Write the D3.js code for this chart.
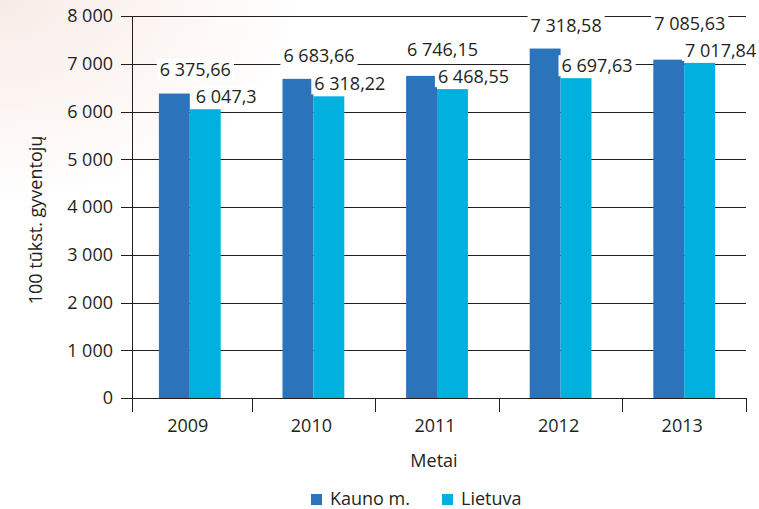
<!DOCTYPE html>
<html><head><meta charset="utf-8">
<script src="https://cdn.jsdelivr.net/npm/d3@7"></script>
<style>html,body{margin:0;padding:0;background:#fff;}svg{display:block;}</style>
</head><body>
<svg id="c" width="759" height="509"></svg>
<script>
const years = ["2009","2010","2011","2012","2013"];
const seriesNames = ["Kauno m.","Lietuva"];
const kauno = [6375.66, 6683.66, 6746.15, 7318.58, 7085.63];
const lietuva = [6047.3, 6318.22, 6468.55, 6697.63, 7017.84];
const yTicks = [0,1000,2000,3000,4000,5000,6000,7000,8000];
const yTitle = "100 tūkst. gyventojų";
const xTitle = "Metai";

const colors = ["#2b74bb","#00b1e0"];
const ink = "#231f20";
const font = "'Open Sans', sans-serif";
const fs = 18;

const svg = d3.select("#c");
const defs = svg.append("defs");
const rg = defs.append("radialGradient").attr("id","bg").attr("cx","0").attr("cy","0").attr("r","0.4");
rg.append("stop").attr("offset","0").attr("stop-color","#f8ebe6");
rg.append("stop").attr("offset","1").attr("stop-color","#ffffff");
svg.append("rect").attr("width",759).attr("height",509).attr("fill","url(#bg)");

const axisX = 132, x0 = 128, x1 = 746, yTop = 16, yBot = 398;
const x = d3.scaleBand().domain(years).range([x0,x1]).paddingInner(0.5).paddingOuter(0.25);
const xs = d3.scaleBand().domain(seriesNames).range([0,x.bandwidth()]);
const y = d3.scaleLinear().domain([0,8000]).range([yBot,yTop]);
const fmt = v => d3.format(",")(v).replace(/,/g," ").replace(".",",");

// gridlines + y ticks
const g = svg.append("g");
g.selectAll("line.grid").data(yTicks.filter(d=>d>0)).join("line")
  .attr("x1",axisX-11).attr("x2",x1).attr("y1",d=>Math.round(y(d))+0.5).attr("y2",d=>Math.round(y(d))+0.5)
  .attr("stroke",ink).attr("stroke-width",1);
g.selectAll("text.yl").data(yTicks).join("text")
  .attr("x",axisX-19).attr("y",d=>y(d)).attr("dy","0.36em").attr("text-anchor","end")
  .attr("font-family",font).attr("font-size",fs).attr("fill",ink)
  .text(d=>d3.format(",")(d).replace(/,/g," "));

// bars
const data = years.map((yr,i)=>({year:yr, vals:[kauno[i],lietuva[i]]}));
const grp = svg.append("g");
data.forEach(d=>{
  d.vals.forEach((v,j)=>{
    grp.append("rect").attr("x",x(d.year)+xs(seriesNames[j])).attr("width",xs.bandwidth())
      .attr("y",y(v)).attr("height",yBot-y(v)).attr("fill",colors[j]);
  });
});

// axes lines
svg.append("line").attr("x1",axisX-11).attr("x2",x1).attr("y1",yBot+0.5).attr("y2",yBot+0.5).attr("stroke",ink);
svg.append("line").attr("x1",axisX+0.5).attr("x2",axisX+0.5).attr("y1",yTop).attr("y2",yBot+14).attr("stroke",ink);
const bounds = years.map(yr=>x(yr)-x.step()*x.paddingInner()/2).slice(1).concat([x1]);
svg.selectAll("line.xt").data(bounds).join("line")
  .attr("x1",d=>Math.round(d)+0.5).attr("x2",d=>Math.round(d)+0.5).attr("y1",yBot).attr("y2",yBot+14).attr("stroke",ink);
svg.selectAll("text.xl").data(years).join("text")
  .attr("x",d=>x(d)+x.bandwidth()/2-2).attr("y",432).attr("text-anchor","middle")
  .attr("font-family",font).attr("font-size",fs).attr("fill",ink).text(d=>d);

// value labels
const lab = svg.append("g");
data.forEach(d=>{
  const lBase = y(d.vals[1]) - 6;
  const kBase = Math.min(y(d.vals[0]) - 17, lBase - 27);
  [kBase, lBase].forEach((by,j)=>{
    const v = d.vals[j];
    const cx = x(d.year)+xs(seriesNames[j])+xs.bandwidth()/2+21;
    const t = lab.append("text").attr("x",cx).attr("y",by).attr("text-anchor","middle")
      .attr("font-family",font).attr("font-size",fs).attr("fill",ink).text(fmt(v));
    const bb = t.node().getBBox();
    lab.insert("rect","text").attr("x",bb.x-3).attr("y",bb.y+2).attr("width",bb.width+6).attr("height",bb.height-3).attr("fill","#fff");
  });
});

// titles
svg.append("text").attr("transform",`translate(42,220) rotate(-90)`).attr("text-anchor","middle")
  .attr("font-family",font).attr("font-size",fs).attr("fill",ink).text(yTitle);
svg.append("text").attr("x",434).attr("y",467).attr("text-anchor","middle")
  .attr("font-family",font).attr("font-size",fs).attr("fill",ink).text(xTitle);

// legend
const legX = [311,442];
seriesNames.forEach((n,j)=>{
  svg.append("rect").attr("x",legX[j]).attr("y",494).attr("width",11).attr("height",11).attr("fill",colors[j]);
  svg.append("text").attr("x",legX[j]+19).attr("y",505).attr("font-family",font).attr("font-size",fs).attr("fill",ink).text(n);
});
</script>
</body></html>
